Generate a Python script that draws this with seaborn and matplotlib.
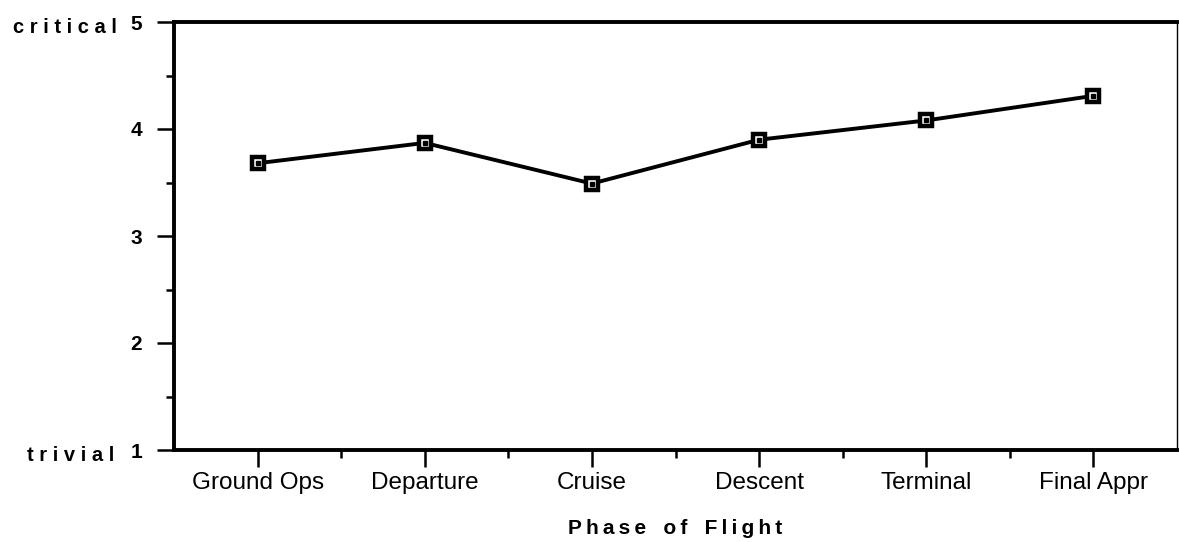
import matplotlib
matplotlib.use("Agg")
import matplotlib.pyplot as plt
import seaborn as sns
import pandas as pd
from matplotlib.ticker import MultipleLocator, FixedLocator

phases = ["Ground Ops", "Departure", "Cruise", "Descent", "Terminal", "Final Appr"]
ratings = [3.68, 3.87, 3.49, 3.90, 4.08, 4.31]
y_ticks = [1, 2, 3, 4, 5]

sns.set_theme(style="white")
plt.rcParams['font.family'] = ['Liberation Sans', 'DejaVu Sans']
plt.rcParams['text.color'] = 'black'
plt.rcParams['axes.labelcolor'] = 'black'
plt.rcParams['xtick.color'] = 'black'
plt.rcParams['ytick.color'] = 'black'

df = pd.DataFrame({"phase": phases, "rating": ratings, "pos": range(len(phases))})

fig = plt.figure(figsize=(11.79, 5.42), dpi=100)
ax = fig.add_axes([174/1179, 1 - 450/542, 1003/1179, 428/542])

sns.lineplot(data=df, x="pos", y="rating", ax=ax, color="black", linewidth=2.8,
             marker="s", markersize=8.5, markerfacecolor="white",
             markeredgecolor="black", markeredgewidth=3.2, zorder=3)
ax.plot(df["pos"], df["rating"], linestyle="none", marker="s", markersize=2.2,
        color="black", zorder=4)

ax.set_xlim(-0.5, len(phases) - 0.5)
ax.set_ylim(1, 5)
ax.xaxis.set_major_locator(FixedLocator(list(range(len(phases)))))
ax.set_xticklabels(phases, fontsize=17.5)
ax.xaxis.set_minor_locator(FixedLocator([i + 0.5 for i in range(len(phases) - 1)]))
ax.yaxis.set_major_locator(FixedLocator(y_ticks))
ax.set_yticklabels([str(v) for v in y_ticks], fontsize=15, fontweight="bold")
ax.yaxis.set_minor_locator(MultipleLocator(0.5))

ax.tick_params(axis="both", which="major", direction="out", length=12, width=1.8,
               colors="black", bottom=True, left=True)
ax.tick_params(axis="both", which="minor", direction="out", length=6, width=1.8,
               colors="black", bottom=True, left=True)
ax.tick_params(axis="y", which="major", pad=11)
ax.tick_params(axis="x", which="major", pad=4)

for side in ["left", "bottom", "top"]:
    ax.spines[side].set_linewidth(2.8)
    ax.spines[side].set_color("black")
ax.spines["right"].set_linewidth(1.0)
ax.spines["right"].set_color("black")

ax.set_xlabel("")
ax.set_ylabel("")

ts = "\u2009"
xlabel = "   ".join(ts.join(word) for word in ["Phase", "of", "Flight"])
ax.text(0.5, -0.183, xlabel, transform=ax.transAxes,
        ha="center", va="center", fontsize=15, fontweight="bold")

ax.text(-0.057, 0.988, "c r i t i c a l", transform=ax.transAxes, ha="right", va="center",
        fontsize=14.5, fontweight="bold")
ax.text(-0.06, -0.012, "t r i v i a l", transform=ax.transAxes, ha="right", va="center",
        fontsize=14.5, fontweight="bold")

fig.savefig("out.png", dpi=100)
